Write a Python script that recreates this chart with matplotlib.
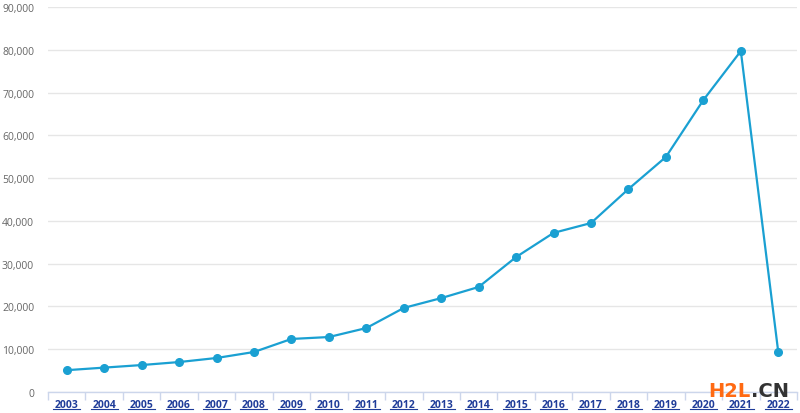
import matplotlib
matplotlib.use("Agg")
import matplotlib.pyplot as plt
import matplotlib.transforms as mtransforms
from matplotlib.ticker import FuncFormatter, MultipleLocator, FixedLocator

years = ["2003", "2004", "2005", "2006", "2007", "2008", "2009", "2010", "2011", "2012",
         "2013", "2014", "2015", "2016", "2017", "2018", "2019", "2020", "2021", "2022"]
values = [5100, 5700, 6300, 7000, 7950, 9350, 12400, 12850, 14950, 19650,
          21950, 24550, 31550, 37200, 39500, 47450, 54950, 68250, 79700, 9300]

plt.rcParams['font.family'] = ['Open Sans', 'DejaVu Sans']

fig = plt.figure(figsize=(8.0, 4.14), dpi=100)
ax = fig.add_axes([48/800, 1-393/414, 749/800, 385/414])

x = list(range(len(years)))
ax.plot(x, values, color='#1aa0d2', lw=1.6, marker='o', ms=5.5, zorder=3, clip_on=False)

ax.set_xlim(-0.5, len(years) - 0.5)
ax.set_ylim(0, 90000)
ax.yaxis.set_major_locator(MultipleLocator(10000))
ax.yaxis.set_major_formatter(FuncFormatter(lambda v, p: f"{int(v):,}"))
ax.grid(axis='y', color='#e6e6e6', lw=1)
ax.set_axisbelow(True)

for s in ['top', 'right', 'left']:
    ax.spines[s].set_visible(False)
ax.spines['bottom'].set_color('#ccd6eb')
ax.spines['bottom'].set_linewidth(1)

ax.tick_params(axis='y', length=0, pad=10, labelsize=7.5, labelcolor='#666666')
ax.set_xticks(x)
ax.set_xticklabels(years, fontsize=7.5, fontweight='bold', color='#1f3c99')
ax.tick_params(axis='x', which='major', length=0, pad=5)
ax.xaxis.set_minor_locator(FixedLocator([i - 0.5 for i in range(len(years) + 1)]))
ax.tick_params(axis='x', which='minor', length=6, color='#ccd6eb', width=1)

# underline for category labels
trans = mtransforms.blended_transform_factory(ax.transData, fig.transFigure)
for i in x:
    ax.plot([i - 0.36, i + 0.36], [1 - 410/414, 1 - 410/414], color='#1f3c99',
            lw=0.8, transform=trans, clip_on=False)

# watermark
fig.text(751/800, 1 - 392/414, "H2L", color='#ff6a13', fontsize=14, fontweight='bold',
         ha='right', va='center', family=['DejaVu Sans'])
fig.text(751/800, 1 - 392/414, ".CN", color='#333333', fontsize=14, fontweight='bold',
         ha='left', va='center', family=['DejaVu Sans'])

fig.savefig("out.png", dpi=100, facecolor='white')
